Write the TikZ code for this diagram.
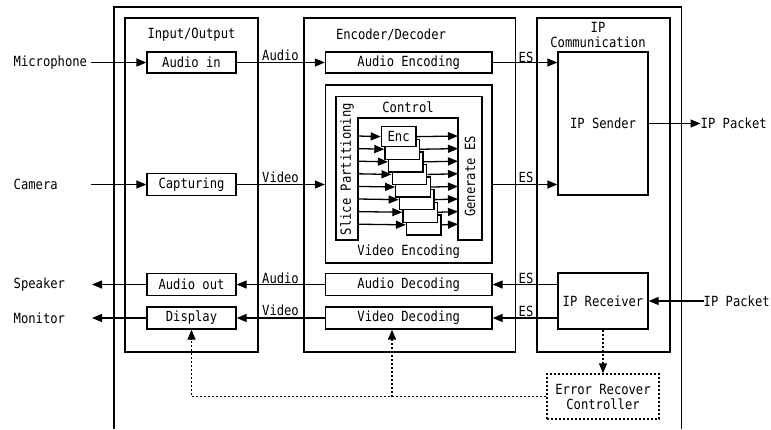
\documentclass[tikz,border=0pt]{standalone}
\usepackage{fontspec}
\newfontfamily\gmono[FakeStretch=0.87]{DejaVu Sans Mono}
\usetikzlibrary{arrows.meta,calc}
\tikzset{
  ln/.style={line width=1.3pt},
  blk/.style={draw, ln, fill=white},
  arr/.style={ln, -{Triangle[length=10pt,width=8pt]}},
  dotln/.style={ln, dash pattern=on 2pt off 2pt},
  darr/.style={dotln, -{Triangle[length=10pt,width=8pt]}},
}
\begin{document}
\begin{tikzpicture}[x=1pt,y=-1pt,
  every node/.style={font=\gmono\fontsize{14pt}{15pt}\selectfont, inner sep=0pt}]
\path[use as bounding box] (0,0) rectangle (771,429);
% outer frame
\draw[ln] (114,429) -- (114,7) -- (681.5,7) -- (681.5,429);
% group frames
\node[blk, minimum width=133pt, minimum height=334pt] (io) at (191.5,185) {};
\node (iot) at (191.5,35) {Input/Output};
\node[blk, minimum width=211.5pt, minimum height=334pt] (ed) at (409.75,185) {};
\node (edt) at (391,35) {Encoder/Decoder};
\node[blk, minimum width=133pt, minimum height=334pt] (ipc) at (603.5,185) {};
\node[align=center] (ipct) at (598,34.5) {IP\\Communication};
% input/output blocks
\node[blk, minimum width=89pt, minimum height=21pt] (ain) at (191.5,62.5) {Audio in};
\node[blk, minimum width=89pt, minimum height=22pt] (cap) at (191.5,184.5) {Capturing};
\node[blk, minimum width=89pt, minimum height=22.5pt] (aout) at (191.5,284.5) {Audio out};
\node[blk, minimum width=89pt, minimum height=22pt] (disp) at (191.5,318) {Display};
% encoder/decoder blocks
\node[blk, minimum width=166.5pt, minimum height=21pt] (aenc) at (408.75,62.5) {Audio Encoding};
\node[blk, minimum width=166.5pt, minimum height=178pt] (venc) at (408.75,174) {};
\node (venct) at (408.75,252) {Video Encoding};
\node[blk, minimum width=166.5pt, minimum height=22.5pt] (adec) at (408.75,284.5) {Audio Decoding};
\node[blk, minimum width=166.5pt, minimum height=22pt] (vdec) at (408.75,318) {Video Decoding};
% IP blocks
\node[blk, minimum width=90pt, minimum height=143pt] (ips) at (603,123.5) {IP Sender};
\node[blk, minimum width=90pt, minimum height=56pt] (ipr) at (603,301) {IP Receiver};
\node[blk, dotln, minimum width=112pt, minimum height=45pt, align=center] (erc) at (603,396.5) {Error Recover\\Controller};
% control region inside video encoding
\draw[ln] (336,96.5) -- (482,96.5) -- (482,240) -- (458,240) -- (458,118) -- (358,118) -- (358,240) -- (336,240) -- cycle;
\node (ctl) at (408,107.5) {Control};
\node[rotate=90] (slc) at (347,169) {Slice Partitioning};
\node[rotate=90] (gen) at (470,176.5) {Generate ES};
\foreach \i in {7,6,...,0} {
  \node[blk, minimum width=34.5pt, minimum height=20pt, anchor=north west] (enc\i) at ({380.7+3.6*\i},{126+12.6*\i}) {};
  \draw[arr] (358,{136+12.6*\i}) -- (enc\i.west);
  \draw[arr] (enc\i.east) -- (458,{136+12.6*\i});
}
\node (enclbl) at (enc0.center) {Enc};
% external labels
\node[anchor=west] (mic) at (13.5,62.5) {Microphone};
\node[anchor=west] (cam) at (13.5,184.5) {Camera};
\node[anchor=west] (spk) at (13.5,284.5) {Speaker};
\node[anchor=west] (mon) at (13.5,318) {Monitor};
\coordinate (micx) at (91,62.5);
\coordinate (camx) at (91,184.5);
\coordinate (spkx) at (92,284.5);
\coordinate (monx) at (92,318);
\node[anchor=west] (pko) at (700.5,123.5) {IP Packet};
\node[anchor=west] (pki) at (703.5,301) {IP Packet};
% connectors
\draw[arr] (micx) -- (ain.west);
\draw[arr] (camx) -- (cap.west);
\draw[arr] (aout.west) -- (spkx);
\draw[arr] (disp.west) -- (monx);
\draw[arr] (ain.east) -- (aenc.west);
\draw[arr] (cap.east) -- (cap.east -| venc.west);
\draw[arr] (aenc.east) -- (aenc.east -| ips.west);
\draw[arr] (venc.east |- cap.east) -- (cap.east -| ips.west);
\draw[arr] (ips.east) -- (pko.west);
\draw[arr] (pki.west) -- (ipr.east);
\draw[arr] (adec.east -| ipr.west) -- (adec.east);
\draw[arr] (vdec.east -| ipr.west) -- (vdec.east);
\draw[arr] (adec.west) -- (aout.east);
\draw[arr] (vdec.west) -- (disp.east);
\draw[darr] (ipr.south) -- (erc.north);
\draw[darr] (erc.west) -| (disp.south);
\coordinate (br) at (392,396.5);
\draw[darr] (br) -- (br |- vdec.south);
% connector labels
\node (la1) at (280.5,55) {Audio};
\node (lv1) at (280.5,177.5) {Video};
\node (la2) at (280.5,278) {Audio};
\node (lv2) at (280.5,310.5) {Video};
\node (es1) at (526,57) {ES};
\node (es2) at (526,177) {ES};
\node (es3) at (526,278) {ES};
\node (es4) at (526,311) {ES};
\end{tikzpicture}
\end{document}
